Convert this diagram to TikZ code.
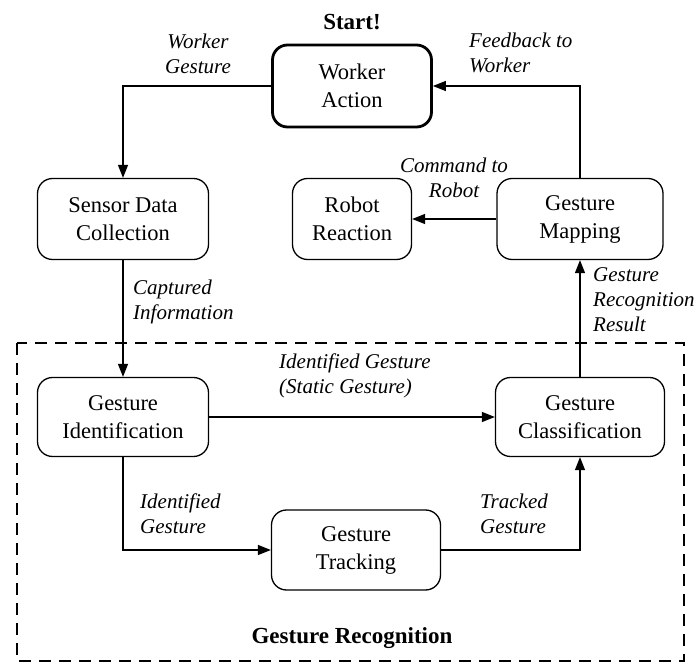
\documentclass[tikz,border=0pt]{standalone}
\usepackage{fontspec}
\setmainfont{Liberation Serif}
\usetikzlibrary{arrows.meta}

\tikzset{
  stage/.style={draw, line width=1.3pt, rounded corners=15pt, align=center,
    inner sep=0pt, font=\fontsize{22.5}{28}\selectfont},
  flow/.style={line width=1.3pt, -{Triangle[length=13pt,width=10pt]}},
  note/.style={inner sep=0pt, font=\fontsize{21}{25}\selectfont\itshape},
  heading/.style={inner sep=0pt, font=\fontsize{23}{28}\selectfont\bfseries},
}

\begin{document}
\begin{tikzpicture}[x=1pt, y=-1pt]
\useasboundingbox (0,0) rectangle (697,663);

% group frame
\draw[line width=1.3pt, dash pattern=on 12pt off 8pt] (17,343) rectangle (684,661);
\node[heading] (grp) at (352,638) {Gesture Recognition};
\node[heading] (start) at (352,22) {Start!};

% stages
\node[stage, line width=2.8pt, minimum width=159pt, minimum height=82pt] (act) at (352,86) {Worker\\Action};
\node[stage, minimum width=171pt, minimum height=81pt] (sensor) at (123,219) {Sensor Data\\Collection};
\node[stage, minimum width=119pt, minimum height=81pt] (robot) at (352,219) {Robot\\Reaction};
\node[stage, minimum width=166pt, minimum height=81pt] (mapping) at (580,219) {Gesture\\Mapping};
\node[stage, minimum width=171pt, minimum height=79pt] (ident) at (123,417) {Gesture\\Identification};
\node[stage, minimum width=169pt, minimum height=79pt] (classif) at (580,417) {Gesture\\Classification};
\node[stage, minimum width=169pt, minimum height=80pt] (track) at (356,550) {Gesture\\Tracking};

% connectors
\draw[flow] (act.west) -| (sensor.north);
\draw[flow] (mapping.north) |- (act.east);
\draw[flow] (mapping.west) -- (robot.east);
\draw[flow] (sensor.south) -- (ident.north);
\draw[flow] (ident.east) -- (classif.west);
\draw[flow] (ident.south) |- (track.west);
\draw[flow] (track.east) -| (classif.south);
\draw[flow] (classif.north) -- (mapping.south);

% connector labels
\node[note, align=center] (lwg) at (198,54) {Worker\\Gesture};
\node[note, align=left, anchor=west] (lfb) at (469,53) {Feedback to\\Worker};
\node[note, align=center] (lcr) at (454,178) {Command to\\Robot};
\node[note, align=left, anchor=west] (lci) at (133,302) {Captured\\Information};
\node[note, align=left, anchor=west] (lgr) at (593,300) {Gesture\\Recognition\\Result};
\node[note, align=left, anchor=west] (lst) at (279,376) {Identified Gesture\\(Static Gesture)};
\node[note, align=left, anchor=west] (lig) at (140,514) {Identified\\Gesture};
\node[note, align=left, anchor=west] (ltg) at (480,514) {Tracked\\Gesture};
\end{tikzpicture}
\end{document}
